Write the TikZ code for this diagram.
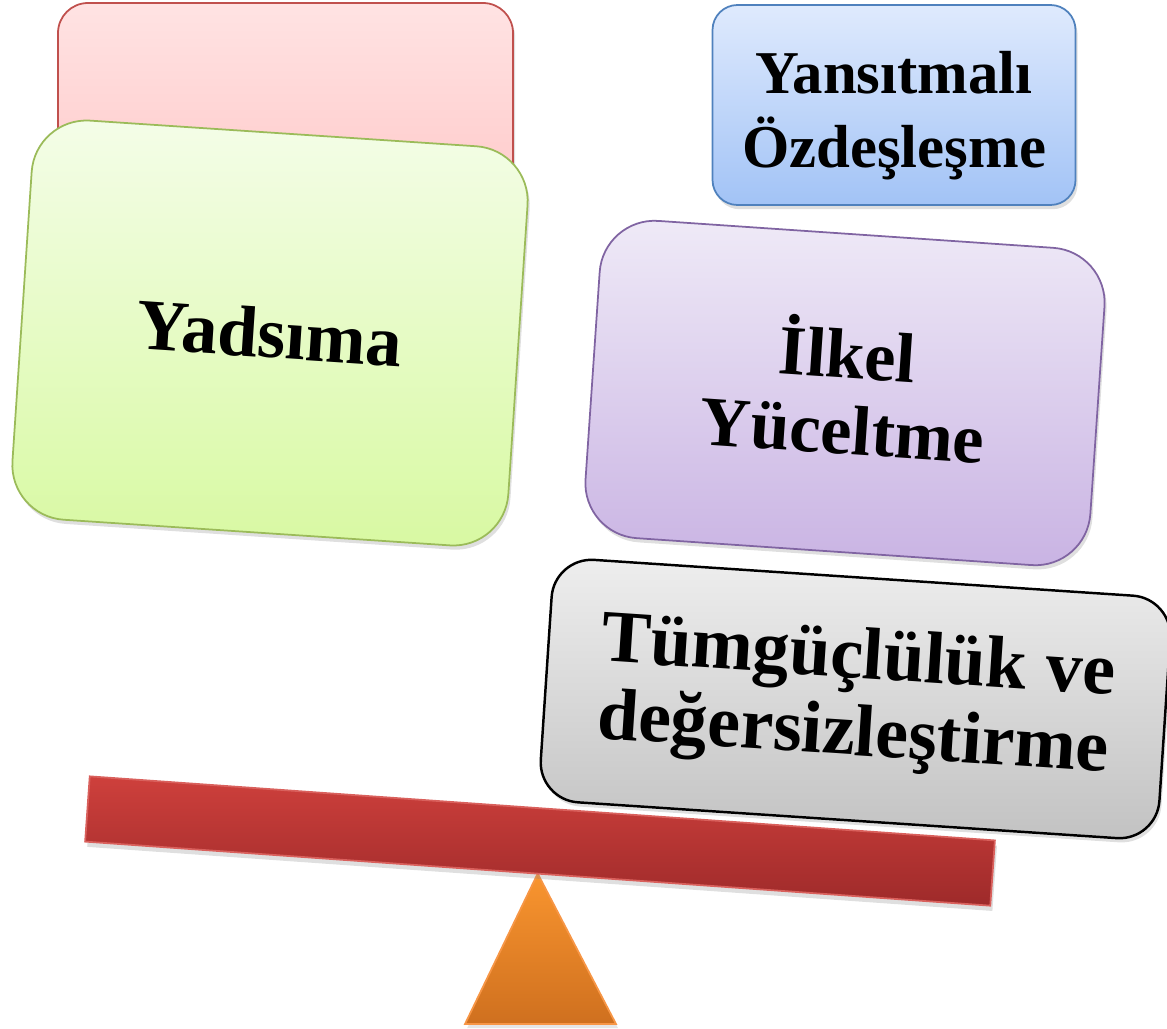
\documentclass[tikz,border=0pt]{standalone}
\usepackage{fontspec}
\setmainfont{Liberation Serif}
\usetikzlibrary{shadows}

\definecolor{redtop}{HTML}{FFE3E3}
\definecolor{redbot}{HTML}{FFB8B8}
\definecolor{redline}{HTML}{C0504D}
\definecolor{greentop}{HTML}{F4FDE8}
\definecolor{greenbot}{HTML}{D8F9A2}
\definecolor{greenline}{HTML}{9BBB59}
\definecolor{bluetop}{HTML}{DFEAFD}
\definecolor{bluebot}{HTML}{A2C3F6}
\definecolor{blueline}{HTML}{4F81BD}
\definecolor{purpletop}{HTML}{EFEAF7}
\definecolor{purplebot}{HTML}{C9B3E3}
\definecolor{purpleline}{HTML}{8064A2}
\definecolor{graytop}{HTML}{EEEEEE}
\definecolor{graybot}{HTML}{C2C2C2}
\definecolor{beamtop}{HTML}{CE403C}
\definecolor{beambot}{HTML}{9E2A2A}
\definecolor{beamline}{HTML}{D9605C}
\definecolor{footop}{HTML}{F9952F}
\definecolor{foobot}{HTML}{CF701F}
\definecolor{fooline}{HTML}{F79646}

\begin{document}
\begin{tikzpicture}[
    card/.style={draw, align=center, inner sep=0pt, line width=0.5pt,
        drop shadow={opacity=0.25, shadow xshift=0.6pt, shadow yshift=-1.2pt}},
    bigtext/.style={font=\bfseries\fontsize{#1}{21.6}\selectfont},
]
    \useasboundingbox (0,0) rectangle (11.67,-10.28);
    % back cards
    \node[card, rounded corners=3mm, minimum width=4.55cm, minimum height=3.4cm,
        top color=redtop, bottom color=redbot, draw=redline] (inkar) at (2.855,-1.73) {};
    \node[card, rounded corners=5.5mm, minimum width=4.97cm, minimum height=4cm, rotate=-3.8,
        top color=greentop, bottom color=greenbot, draw=greenline, bigtext=20.6] (yadsima) at (2.70,-3.33) {Yadsıma};
    \node[card, rounded corners=2.5mm, minimum width=3.63cm, minimum height=2.0cm,
        top color=bluetop, bottom color=bluebot, draw=blueline,
        font=\bfseries\fontsize{17.3}{21}\selectfont] (yansitma) at (8.94,-1.05) {\rule{0pt}{6.3mm}Yansıtmalı\\Özdeşleşme};
    \node[card, rounded corners=5.5mm, minimum width=5.06cm, minimum height=3.18cm, rotate=-3.9,
        top color=purpletop, bottom color=purplebot, draw=purpleline, bigtext=20] (ilkel) at (8.45,-3.93) {İlkel\\Yüceltme\rule[-1.4mm]{0pt}{0pt}};
    \node[card, rounded corners=4mm, minimum width=6.2cm, minimum height=2.43cm, rotate=-3.8,
        top color=graytop, bottom color=graybot, draw=black, line width=0.7pt,
        font=\bfseries\fontsize{21}{22}\selectfont] (tumguc) at (8.555,-6.99) {Tümgüçlülük ve\\değersizleştirme};
    % seesaw
    \node[minimum width=9.06cm, minimum height=0.64cm, inner sep=0pt, rotate=-4.05] (beam) at (5.40,-8.41) {};
    \coordinate (footl) at (4.65,-10.24);
    \coordinate (footr) at (6.16,-10.24);
    \shade[top color=footop, bottom color=foobot, draw=fooline, line width=0.5pt,
        drop shadow={opacity=0.2, shadow xshift=0.6pt, shadow yshift=-1.2pt}] (beam.south) -- (footr) -- (footl) -- cycle;
    \shade[top color=beamtop, bottom color=beambot, draw=beamline, line width=0.5pt,
        drop shadow={opacity=0.25, shadow xshift=0.6pt, shadow yshift=-1.5pt}]
        (beam.north west) -- (beam.north east) -- (beam.south east) -- (beam.south west) -- cycle;
\end{tikzpicture}
\end{document}
